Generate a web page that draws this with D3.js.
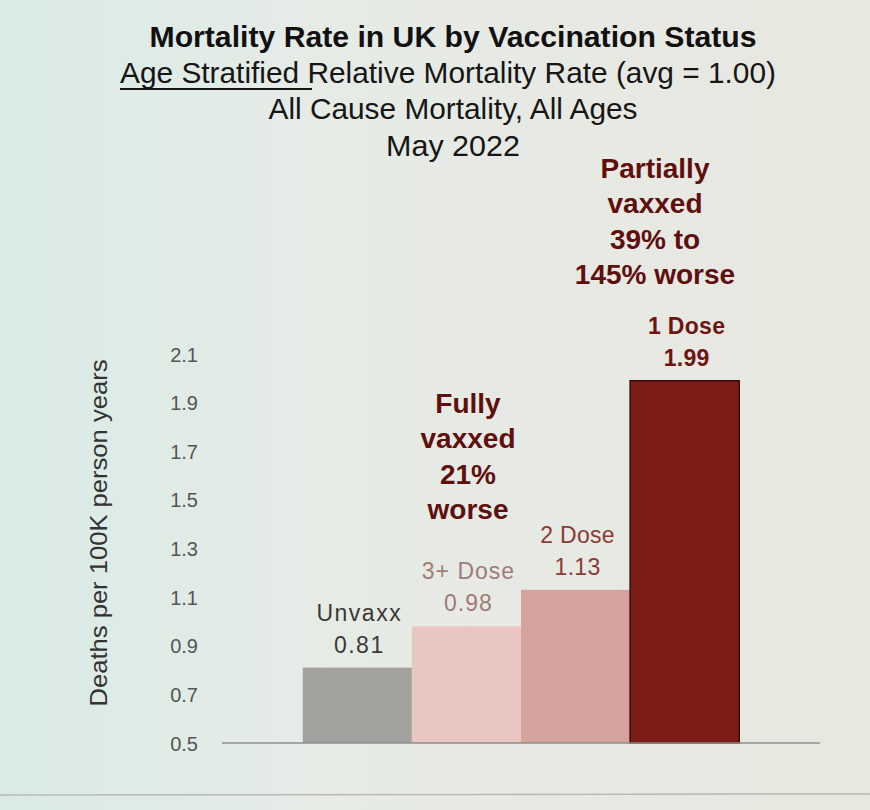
<!DOCTYPE html>
<html><head><meta charset="utf-8">
<script src="https://cdn.jsdelivr.net/npm/d3@7"></script>
<style>html,body{margin:0;padding:0;background:#e7e8e2;}svg{display:block;}</style>
</head><body>
<script>
// ---- data ----
const categories = ["Unvaxx", "3+ Dose", "2 Dose", "1 Dose"];
const values = [0.81, 0.98, 1.13, 1.99];
const yTicks = [0.5, 0.7, 0.9, 1.1, 1.3, 1.5, 1.7, 1.9, 2.1];
const titleLines = ["Mortality Rate in UK by Vaccination Status",
  "Relative Mortality Rate (avg = 1.00)",
  "All Cause Mortality, All Ages", "May 2022"];
const underlinedPart = "Age Stratified ";
const yTitle = "Deaths per 100K person years";
const fullyNote = ["Fully", "vaxxed", "21%", "worse"];
const partialNote = ["Partially", "vaxxed", "39% to", "145% worse"];

// ---- styles ----
const barColors = ["#a3a19e", "#e9c6c1", "#d6a29e", "#7c1c16"];
const labelColors = ["#3a3838", "#a07b78", "#8a3a36", "#6e1512"];
const labelWeights = ["normal", "normal", "normal", "bold"];
const tf = "'Liberation Sans', Arial, sans-serif";

const W = 870, H = 810;
const svg = d3.select("body").append("svg").attr("width", W).attr("height", H);

const defs = svg.append("defs");
const grad = defs.append("linearGradient").attr("id", "bg").attr("x1", 0).attr("x2", 1).attr("y1", 0).attr("y2", 0);
grad.append("stop").attr("offset", "0").attr("stop-color", "#d9ebe7");
grad.append("stop").attr("offset", "0.35").attr("stop-color", "#e6ebe6");
grad.append("stop").attr("offset", "1").attr("stop-color", "#e8e7e0");
svg.append("rect").attr("width", W).attr("height", H).attr("fill", "url(#bg)");
svg.append("line").attr("x1", 0).attr("x2", W).attr("y1", 795).attr("y2", 794)
  .attr("stroke", "#b9b9b4").attr("stroke-width", 1.5);

const y = d3.scaleLinear().domain([0.5, 2.1]).range([743, 354]);
const x = d3.scaleBand().domain(categories).range([222, 820]).paddingInner(0).paddingOuter(0.74);

// y tick labels
const yAxis = d3.axisLeft(y).tickValues(yTicks).tickFormat(d3.format(".1f")).tickSize(0).tickPadding(0);
const ga = svg.append("g").attr("transform", "translate(198,0)").call(yAxis);
ga.attr("font-family", null).attr("font-size", null);
ga.select(".domain").remove();
ga.selectAll("text").style("font-family", tf)
  .style("font-size", "20px").attr("fill", "#555").attr("dy", "0.35em");

// y title
svg.append("text").attr("transform", "translate(107,533) rotate(-90)")
  .attr("text-anchor", "middle").style("font-family", tf)
  .style("font-size", "24px").attr("fill", "#333")
  .attr("textLength", 347).attr("lengthAdjust", "spacingAndGlyphs").text(yTitle);

// bars
svg.selectAll("rect.bar").data(categories).join("rect").attr("class", "bar")
  .attr("x", d => x(d)).attr("width", x.bandwidth())
  .attr("y", (d, i) => y(values[i])).attr("height", (d, i) => y(0.5) - y(values[i]))
  .attr("fill", (d, i) => barColors[i])
  .attr("stroke", (d, i) => i === 3 ? "#3a0a08" : "none").attr("stroke-width", 1.5);

// baseline
svg.append("line").attr("x1", 222).attr("x2", 820).attr("y1", y(0.5)).attr("y2", y(0.5))
  .attr("stroke", "#8f8f8c").attr("stroke-width", 1.5);

// bar labels
const lab = svg.selectAll("g.lab").data(categories).join("g").attr("class", "lab")
  .style("font-family", tf).style("font-size", "23px")
  .attr("text-anchor", "middle")
  .attr("fill", (d, i) => labelColors[i]).attr("font-weight", (d, i) => labelWeights[i])
  .attr("letter-spacing", (d, i) => i === 0 ? 1.5 : (i === 1 ? 1 : 0.3));
lab.append("text").attr("x", d => x(d) + x.bandwidth() / 2 + 2).attr("y", (d, i) => y(values[i]) - 47).text(d => d);
lab.append("text").attr("x", d => x(d) + x.bandwidth() / 2 + 2).attr("y", (d, i) => y(values[i]) - 15).text((d, i) => values[i].toFixed(2));

// titles
svg.append("text").attr("x", 453).attr("y", 47).attr("text-anchor", "middle")
  .style("font-family", tf).style("font-size", "29px").attr("font-weight", "bold").attr("fill", "#111")
  .attr("textLength", 607).attr("lengthAdjust", "spacingAndGlyphs").text(titleLines[0]);
const t2 = svg.append("text").attr("x", 120).attr("y", 83).style("font-family", tf).style("font-size", "29px").attr("fill", "#161616");
t2.append("tspan").text(underlinedPart);
t2.append("tspan").text(titleLines[1]);
t2.attr("textLength", 656).attr("lengthAdjust", "spacingAndGlyphs");
svg.append("line").attr("x1", 120).attr("x2", 312).attr("y1", 89).attr("y2", 89).attr("stroke", "#161616").attr("stroke-width", 1.8);
svg.append("text").attr("x", 453).attr("y", 119).attr("text-anchor", "middle").style("font-family", tf)
  .style("font-size", "29px").attr("fill", "#161616").attr("textLength", 369).attr("lengthAdjust", "spacingAndGlyphs").text(titleLines[2]);
svg.append("text").attr("x", 453).attr("y", 156).attr("text-anchor", "middle").style("font-family", tf)
  .style("font-size", "29px").attr("fill", "#161616").attr("textLength", 134).attr("lengthAdjust", "spacingAndGlyphs").text(titleLines[3]);

// notes
function note(lines, cx, y0) {
  svg.append("g").style("font-family", tf).style("font-size", "28px").attr("font-weight", "bold")
    .attr("fill", "#5e0f0e").attr("text-anchor", "middle")
    .selectAll("text").data(lines).join("text")
    .attr("x", cx).attr("y", (d, i) => y0 + i * 35.3).text(d => d);
}
note(fullyNote, 468, 413);
note(partialNote, 655, 178);
</script>
</body></html>
